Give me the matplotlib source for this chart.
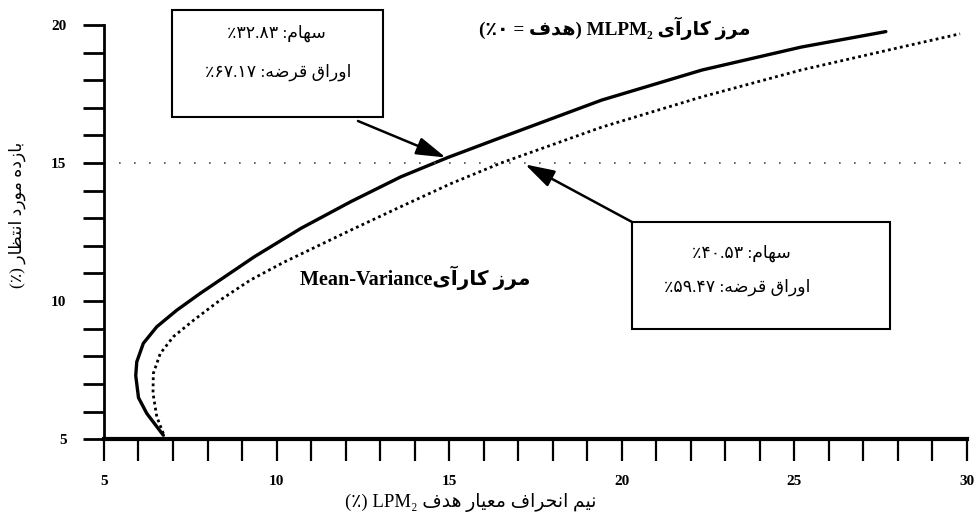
import matplotlib
matplotlib.use("Agg")
import matplotlib.pyplot as plt
from matplotlib.patches import Rectangle

# efficient frontiers (x = semi-deviation %, y = expected return %)
mlpm_x = [6.72, 6.24, 6.0, 5.92, 5.95, 6.14, 6.53, 7.11, 7.79, 8.57, 9.35, 10.7,
          12.15, 13.6, 14.96, 16.45, 19.42, 22.33, 25.2, 27.65]
mlpm_y = [5.14, 5.93, 6.5, 7.3, 7.8, 8.47, 9.07, 9.67, 10.28, 10.94, 11.6, 12.63,
          13.6, 14.5, 15.2, 15.9, 17.28, 18.37, 19.2, 19.76]

mv_x = [6.72, 6.53, 6.42, 6.43, 6.63, 7.01, 7.6, 8.37, 9.24, 10.2, 12.15, 13.6,
        15.06, 16.5, 19.42, 22.33, 25.2, 28.1, 29.8]
mv_y = [5.2, 5.81, 6.66, 7.38, 8.1, 8.71, 9.31, 10.04, 10.76, 11.4, 12.57, 13.42,
        14.26, 15.0, 16.3, 17.4, 18.37, 19.2, 19.68]

target_return = 15
# points the two call-out arrows touch
arrow_x = [14.9, 17.2]
arrow_y = [15.2, 14.95]

box_texts = [["سهام: ۳۲.۸۳٪", "اوراق قرضه: ۶۷.۱۷٪"],
             ["سهام: ۴۰.۵۳٪", "اوراق قرضه: ۵۹.۴۷٪"]]
mlpm_label = "مرز کارآی MLPM₂ (هدف = ۰٪)"
mv_label = "مرز کارآیMean-Variance"
x_label = "نیم انحراف معیار هدف LPM₂ (٪)"
y_label = "بازده مورد انتظار (٪)"

# matplotlib does no arabic shaping, so do it by hand
FORMS = {
    'ا': ('\uFE8D', '\uFE8E', None, None),
    'آ': ('\uFE81', '\uFE82', None, None),
    'ب': ('\uFE8F', '\uFE90', '\uFE91', '\uFE92'),
    'ت': ('\uFE95', '\uFE96', '\uFE97', '\uFE98'),
    'ح': ('\uFEA1', '\uFEA2', '\uFEA3', '\uFEA4'),
    'د': ('\uFEA9', '\uFEAA', None, None),
    'ر': ('\uFEAD', '\uFEAE', None, None),
    'ز': ('\uFEAF', '\uFEB0', None, None),
    'س': ('\uFEB1', '\uFEB2', '\uFEB3', '\uFEB4'),
    'ض': ('\uFEBD', '\uFEBE', '\uFEBF', '\uFEC0'),
    'ظ': ('\uFEC5', '\uFEC6', '\uFEC7', '\uFEC8'),
    'ع': ('\uFEC9', '\uFECA', '\uFECB', '\uFECC'),
    'ف': ('\uFED1', '\uFED2', '\uFED3', '\uFED4'),
    'ق': ('\uFED5', '\uFED6', '\uFED7', '\uFED8'),
    'م': ('\uFEE1', '\uFEE2', '\uFEE3', '\uFEE4'),
    'ن': ('\uFEE5', '\uFEE6', '\uFEE7', '\uFEE8'),
    'ه': ('\uFEE9', '\uFEEA', '\uFEEB', '\uFEEC'),
    'و': ('\uFEED', '\uFEEE', None, None),
    'ی': ('\uFBFC', '\uFBFD', '\uFBFE', '\uFBFF'),
    'ک': ('\uFB8E', '\uFB8F', '\uFB90', '\uFB91'),
}
MIRROR = {'(': ')', ')': '('}


def is_ltr(ch):
    return (ch.isascii() and (ch.isalnum() or ch in '.-')) or '\u06f0' <= ch <= '\u06f9' or ch == '₂'


def fa(s):
    out = []
    for i, ch in enumerate(s):
        if ch not in FORMS:
            out.append(ch)
            continue
        prev = s[i - 1] if i > 0 else ''
        nxt = s[i + 1] if i + 1 < len(s) else ''
        join_prev = prev in FORMS and FORMS[prev][2] is not None
        join_next = nxt in FORMS and FORMS[ch][2] is not None
        iso, fin, ini, med = FORMS[ch]
        if join_prev and join_next:
            out.append(med)
        elif join_prev:
            out.append(fin)
        elif join_next:
            out.append(ini)
        else:
            out.append(iso)
    # split into runs, reverse run order, keep ltr runs as they are
    runs = []
    for ch in out:
        l = is_ltr(ch)
        if runs and runs[-1][0] == l:
            runs[-1][1].append(ch)
        else:
            runs.append([l, [ch]])
    vis = ''
    for l, chars in reversed(runs):
        if l:
            vis += ''.join(chars)
        else:
            vis += ''.join(MIRROR.get(c, c) for c in reversed(chars))
    return vis


FAM = ['Liberation Serif', 'DejaVu Sans']

fig = plt.figure(figsize=(9.8, 5.16), dpi=100)
ax = fig.add_axes([0.1061, 0.149, 0.8806, 0.8026])

ax.plot(mlpm_x, mlpm_y, color='black', lw=2.4, solid_capstyle='round',
        solid_joinstyle='round', clip_on=False)
ax.plot(mv_x, mv_y, color='black', lw=2.0, ls=(0, (1, 1.2)), clip_on=False)
ax.axhline(target_return, color='0.3', lw=1.2, ls=(0, (1, 8)))

ax.set_xlim(5, 30)
ax.set_ylim(5, 20)
for s in ['top', 'right']:
    ax.spines[s].set_visible(False)
ax.spines['left'].set_linewidth(2)
ax.spines['bottom'].set_linewidth(3)

ax.set_xticks(range(5, 31, 5))
ax.set_xticks(range(5, 31), minor=True)
ax.set_yticks(range(5, 21, 5))
ax.set_yticks(range(5, 21), minor=True)
ax.tick_params(axis='x', which='both', direction='out', length=16, width=1.6, pad=10)
ax.tick_params(axis='y', which='both', direction='out', length=15, width=2, pad=12)
for lab in ax.get_xticklabels() + ax.get_yticklabels():
    lab.set_family(FAM)
    lab.set_fontweight('bold')
    lab.set_fontsize(11)

# call-out boxes
boxes = [(0.1755, 0.7733, 0.2153, 0.2074), (0.6449, 0.3624, 0.2633, 0.2074)]
for bx in boxes:
    fig.patches.append(Rectangle(bx[:2], bx[2], bx[3], transform=fig.transFigure,
                                 fill=False, lw=1.5, ec='black'))
text_pos = [[(0.2816, 0.936), (0.2837, 0.860)], [(0.757, 0.510), (0.752, 0.444)]]
for lines, pos in zip(box_texts, text_pos):
    for t, p in zip(lines, pos):
        fig.text(p[0], p[1], fa(t), ha='center', va='center', fontsize=12.5, family=FAM)

starts = [(0.3653, 0.7655), (0.6449, 0.5698)]
for xs, ys, st in zip(arrow_x, arrow_y, starts):
    ax.annotate('', xy=(xs, ys), xycoords='data', xytext=st, textcoords='figure fraction',
                arrowprops=dict(arrowstyle='-|>,head_length=1.0,head_width=0.3', lw=1.8,
                                color='black', shrinkA=0, shrinkB=0, mutation_scale=18))

fig.text(0.6276, 0.9457, fa(mlpm_label), ha='center', va='center', fontsize=13.8,
         fontweight='bold', family=FAM)
fig.text(0.4235, 0.4612, fa(mv_label), ha='center', va='center', fontsize=14.5,
         fontweight='bold', family=FAM)

fig.text(0.48, 0.026, fa(x_label), ha='center', va='center', fontsize=13.5, family=FAM)
fig.text(0.018, 0.583, fa(y_label), ha='center', va='center', fontsize=12.5, family=FAM,
         rotation=90)

fig.savefig('out.png', dpi=100)
